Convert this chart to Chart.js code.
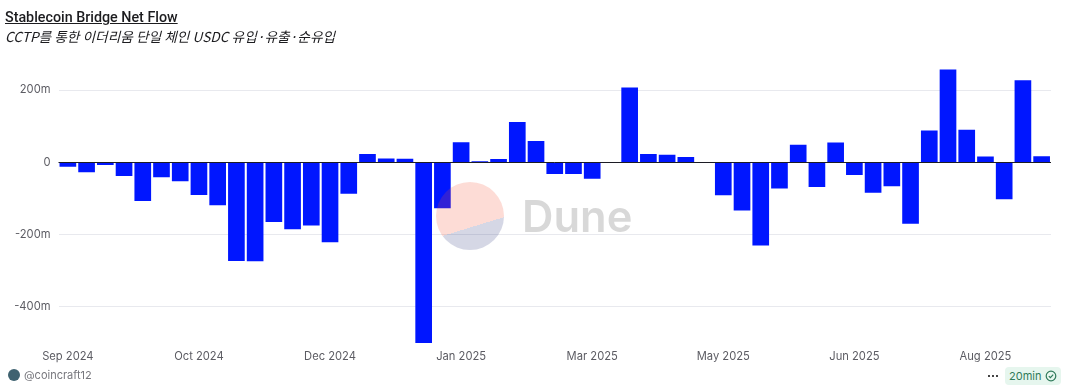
<!DOCTYPE html>
<html>
<head>
<meta charset="utf-8">
<title>Stablecoin Bridge Net Flow</title>
<script src="https://cdn.jsdelivr.net/npm/chart.js@4"></script>
<style>
  body { margin: 0; background: #fff; width: 1068px; height: 391px; overflow: hidden; position: relative; font-family: Inter, "Noto Sans CJK KR", sans-serif; }
  canvas { position: absolute; left: 0; top: 0; }
  .title { position: absolute; left: 5px; top: 9px; font: 500 14.3px Roboto, sans-serif; color: #1c1c1f; text-decoration: underline; }
  .subtitle { position: absolute; left: 5px; top: 26px; font: italic 13.7px "Noto Sans CJK KR", sans-serif; color: #1c1c1f; }
  .logo { position: absolute; left: 436px; top: 182px; width: 68px; height: 68px; border-radius: 50%; background: linear-gradient(163deg, rgba(245,80,50,.2) 63%, rgba(45,55,125,.2) 63%); pointer-events: none; }
  .dune { position: absolute; left: 522px; top: 190px; font: 600 43.5px Inter, sans-serif; color: rgba(60,60,60,.2); pointer-events: none; }
  .avatar { position: absolute; left: 8px; top: 369px; width: 12px; height: 12px; border-radius: 50%; background: #3f6270; }
  .owner { position: absolute; left: 24px; top: 368px; font: 11px Inter, sans-serif; color: #77777d; }
  .dots { position: absolute; left: 987px; top: 368px; font: bold 12px Inter, sans-serif; color: #222; }
  .badge { position: absolute; left: 1005px; top: 367px; width: 56px; height: 18px; border-radius: 4px; background: #e6f6ee; color: #2f7a5a; font: 11px Inter, sans-serif; line-height: 18px; padding-left: 4px; box-sizing: border-box; }
  .badge svg { position: absolute; right: 4px; top: 3px; }
</style>
</head>
<body>
<canvas id="flow" width="1068" height="391"></canvas>
<div class="title">Stablecoin Bridge Net Flow</div>
<div class="subtitle">CCTP를 통한 이더리움 단일 체인 USDC 유입·유출·순유입</div>
<div class="logo"></div>
<div class="dune">Dune</div>
<div class="avatar"></div>
<div class="owner">@coincraft12</div>
<div class="dots">···</div>
<div class="badge">20min<svg width="12" height="12" viewBox="0 0 12 12" fill="none" stroke="#2f7a5a" stroke-width="1.2"><circle cx="6" cy="6" r="4.8"/><path d="M3.8 6.1l1.6 1.6 2.8-3"/></svg></div>

<script>
var weeks = [
  '2024-09-02', '2024-09-09', '2024-09-16', '2024-09-23', '2024-09-30',
  '2024-10-07', '2024-10-14', '2024-10-21', '2024-10-28',
  '2024-11-04', '2024-11-11', '2024-11-18', '2024-11-25',
  '2024-12-02', '2024-12-09', '2024-12-16', '2024-12-23', '2024-12-30',
  '2025-01-06', '2025-01-13', '2025-01-20', '2025-01-27',
  '2025-02-03', '2025-02-10', '2025-02-17', '2025-02-24',
  '2025-03-03', '2025-03-10', '2025-03-17', '2025-03-24', '2025-03-31',
  '2025-04-07', '2025-04-14', '2025-04-21', '2025-04-28',
  '2025-05-05', '2025-05-12', '2025-05-19', '2025-05-26',
  '2025-06-02', '2025-06-09', '2025-06-16', '2025-06-23', '2025-06-30',
  '2025-07-07', '2025-07-14', '2025-07-21', '2025-07-28',
  '2025-08-04', '2025-08-11', '2025-08-18', '2025-08-25',
  '2025-09-01'
];

// net flow, millions of USD
var netFlow = [
  -12, -27, -7, -38, -107, -41, -52, -90, -119, -273, -274, -165, -185, -175, -221, -87,
  23, 11, 10, -500, -127, 56, 3, 9, 112, 59, -32, -32, -45, 0, 207, 23, 21, 15, 0,
  -91, -133, -230, -72, 49, -68, 55, -35, -84, -66, -170, 88, 257, 90, 16, -102, 227, 17
];

var yTicks = [-400, -200, 0, 200];
var monthNames = ['Jan', 'Feb', 'Mar', 'Apr', 'May', 'Jun', 'Jul', 'Aug', 'Sep', 'Oct', 'Nov', 'Dec'];

// zero line sits on top of the bars, the other grid lines behind them
var zeroLine = {
  id: 'zeroLine',
  afterDatasetsDraw: function (chart) {
    var y = Math.round(chart.scales.y.getPixelForValue(0)) + 0.5;
    var ctx = chart.ctx;
    ctx.save();
    ctx.strokeStyle = '#1c1c24';
    ctx.lineWidth = 1;
    ctx.beginPath();
    ctx.moveTo(chart.chartArea.left, y);
    ctx.lineTo(chart.chartArea.right, y);
    ctx.stroke();
    ctx.restore();
  }
};

new Chart(document.getElementById('flow'), {
  type: 'bar',
  data: {
    labels: weeks,
    datasets: [{
      data: netFlow,
      backgroundColor: '#0016ff',
      barPercentage: 0.89,
      categoryPercentage: 1
    }]
  },
  options: {
    responsive: false,
    animation: false,
    layout: { padding: { top: 54, right: 17, bottom: 24, left: 0 } },
    plugins: { legend: { display: false }, tooltip: { enabled: false } },
    scales: {
      x: {
        grid: { display: false, drawTicks: false },
        border: { display: false },
        afterFit: function (axis) { axis.height = 24; },
        ticks: {
          autoSkip: false,
          maxRotation: 0,
          padding: 7,
          color: '#5c5c63',
          font: { family: 'Inter', size: 11.2 },
          callback: function (value, index) {
            if (index % 7 !== 0) return '';
            var parts = weeks[index].split('-');
            return monthNames[parseInt(parts[1], 10) - 1] + ' ' + parts[0];
          }
        }
      },
      y: {
        min: -500,
        max: 300,
        afterFit: function (axis) { axis.width = 58.5; },
        afterBuildTicks: function (axis) {
          axis.ticks = yTicks.map(function (v) { return { value: v }; });
        },
        grid: { color: '#e8e9ee', drawTicks: false },
        border: { display: false },
        ticks: {
          padding: 8,
          color: '#5c5c63',
          font: { family: 'Inter', size: 11.2 },
          callback: function (value) {
            return value === 0 ? '0' : value + 'm';
          }
        }
      }
    }
  },
  plugins: [zeroLine]
});
</script>
</body>
</html>
